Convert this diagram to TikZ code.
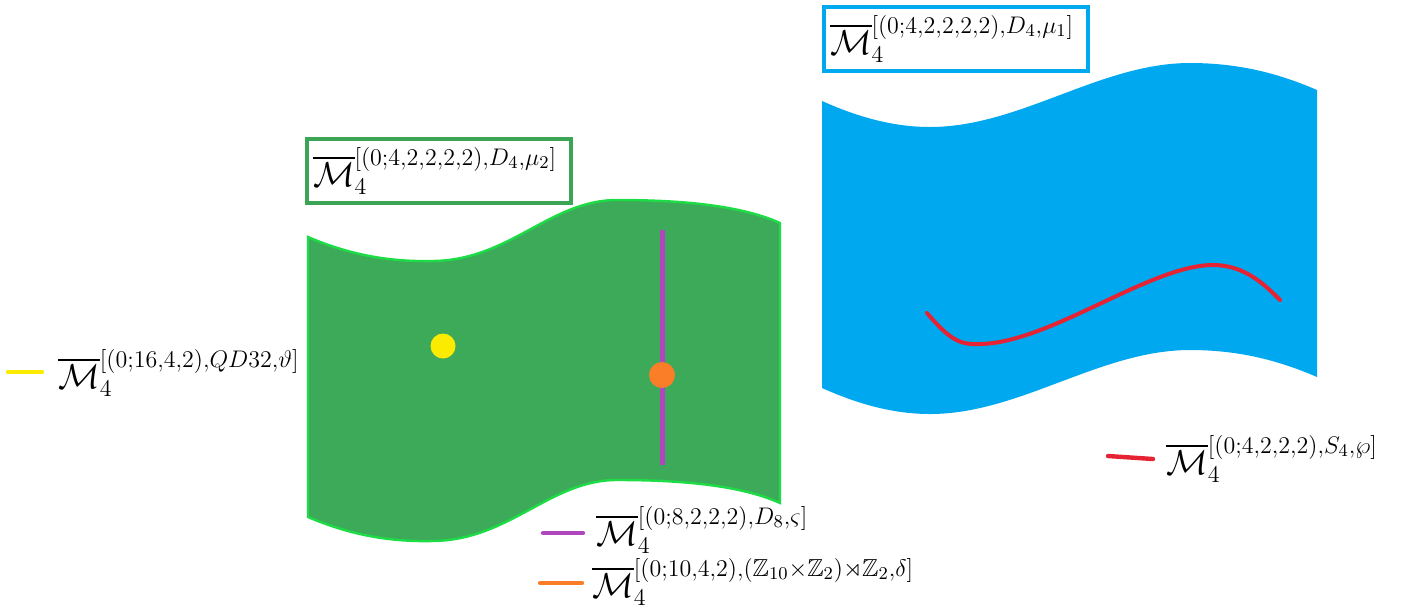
\documentclass[tikz,border=0pt]{standalone}
\usepackage{amsmath,amssymb}
\DeclareMathSizes{16}{16}{12.3}{9}
\definecolor{sheetgreen}{RGB}{61,170,90}
\definecolor{rimgreen}{RGB}{30,220,70}
\definecolor{boxgreen}{RGB}{60,165,85}
\definecolor{sheetblue}{RGB}{0,168,240}
\definecolor{curvered}{RGB}{230,35,50}
\definecolor{linepurple}{RGB}{175,70,190}
\definecolor{dotorange}{RGB}{250,125,40}
\definecolor{dotyellow}{RGB}{250,235,0}
\newcommand{\Mbar}{\overline{\mathcal{M}}_4}

\begin{document}
\begin{tikzpicture}[x=0.5pt,y=-0.5pt,
  tag/.style={draw,line width=2pt,anchor=north west,inner xsep=3pt,inner ysep=0pt,minimum height=32pt,text width=126pt,font=\fontsize{16}{19}\selectfont},
  lab/.style={anchor=base west,inner sep=0,font=\fontsize{16}{19}\selectfont},
  leg/.style={line width=2.2pt,line cap=round},
  dot/.style={circle,inner sep=0,draw=none}]
\useasboundingbox (0,0) rectangle (1412,612);
% green sheet, lower curve is the upper one moved down by 280
\fill[sheetgreen,draw=rimgreen,line width=1.2pt]
  (308,237) .. controls (350,255) and (390,262) .. (433,261)
  .. controls (510,260) and (550,200) .. (617,200)
  .. controls (680,200) and (740,205) .. (780,223)
  -- (780,503)
  .. controls (740,485) and (680,480) .. (617,480)
  .. controls (550,480) and (510,540) .. (433,541)
  .. controls (390,542) and (350,535) .. (308,517) -- cycle;
% blue sheet
\fill[sheetblue]
  (822,101) .. controls (860,118) and (895,127) .. (930,127)
  .. controls (1020,127) and (1100,63) .. (1190,63)
  .. controls (1240,63) and (1280,74) .. (1317,90)
  -- (1317,377)
  .. controls (1280,361) and (1240,350) .. (1190,350)
  .. controls (1100,350) and (1020,414) .. (930,414)
  .. controls (895,414) and (860,405) .. (822,388) -- cycle;
% loci on the sheets
\coordinate (ptop) at (662,230);
\coordinate (pbot) at (662,465);
\draw[linepurple,line width=2.5pt] (ptop) -- (pbot);
\node[dot,fill=dotyellow,minimum size=12.5pt] (yel) at (443,346) {};
\node[dot,fill=dotorange,minimum size=13pt] (ora) at (662,375) {};
\coordinate (rs) at (927,313);
\coordinate (re) at (1280,300);
\draw[curvered,line width=2pt,line cap=round] (rs)
  .. controls (950,340) and (960,345) .. (980,344)
  .. controls (1050,343) and (1150,265) .. (1213,265)
  .. controls (1245,265) and (1265,285) .. (re);
% boxed names
\node[tag,draw=boxgreen] (tg) at (305,137) {$\Mbar^{[(0;4,2,2,2,2),D_4,\mu_2]}$};
\node[tag,draw=sheetblue] (tb) at (822,5) {$\Mbar^{[(0;4,2,2,2,2),D_4,\mu_1]}$};
% legend
\node[lab] (ly) at (58,388) {$\Mbar^{[(0;16,4,2),QD32,\vartheta]}$};
\node[lab] (lr) at (1166,474) {$\Mbar^{[(0;4,2,2,2),S_4,\wp]}$};
\node[lab] (lp) at (596,545) {$\Mbar^{[(0;8,2,2,2),D_8,\varsigma]}$};
\node[lab] (lo) at (592,597) {$\Mbar^{[(0;10,4,2),(\mathbb{Z}_{10}\times\mathbb{Z}_2)\rtimes\mathbb{Z}_2,\delta]}$};
\coordinate (ya) at (8,372);   \coordinate (yb) at (42,372);
\coordinate (ra) at (1108,456); \coordinate (rb) at (1153,459);
\coordinate (pa) at (543,533); \coordinate (pb) at (583,533);
\coordinate (oa) at (540,583); \coordinate (ob) at (582,583);
\draw[leg,dotyellow] (ya) -- (yb);
\draw[leg,curvered] (ra) -- (rb);
\draw[leg,linepurple] (pa) -- (pb);
\draw[leg,dotorange] (oa) -- (ob);
\end{tikzpicture}
\end{document}
